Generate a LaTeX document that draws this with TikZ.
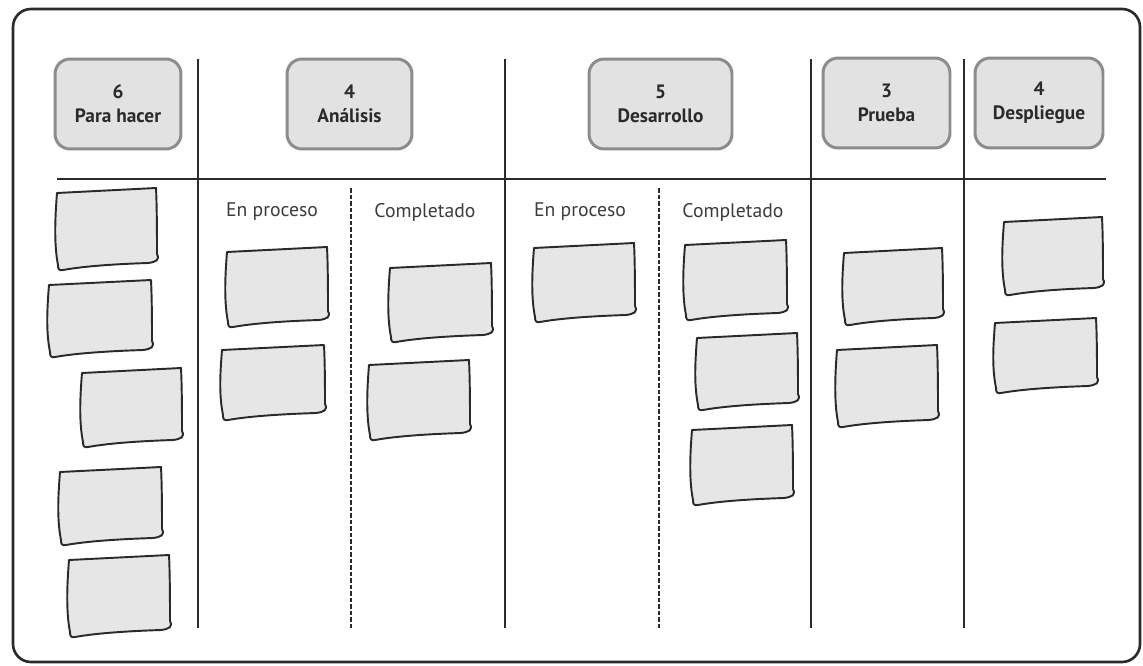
\documentclass[tikz,border=0pt]{standalone}
\usepackage{fontspec}
\setmainfont{PT Sans}
\definecolor{ink}{HTML}{2A2A2A}
\definecolor{notefill}{HTML}{E6E6E6}
\definecolor{hdrfill}{HTML}{E2E2E2}
\definecolor{hdrline}{HTML}{8C8C8C}
\definecolor{subtext}{HTML}{3C3C3C}
\tikzset{
  board/.style={draw=ink, line width=1.5pt, rounded corners=0.36cm},
  rule/.style={draw=ink, line width=1.1pt},
  splitline/.style={draw=ink, line width=1.3pt, dash pattern=on 2.6pt off 1.1pt},
  hdr/.style={draw=hdrline, fill=hdrfill, line width=1.7pt, rounded corners=0.3cm,
    minimum height=1.8cm, align=center, text=ink, inner sep=0pt,
    font=\bfseries\fontsize{11}{13.6}\selectfont},
  sub/.style={text=subtext, inner sep=0pt, font=\fontsize{11.2}{13}\selectfont},
  note/.style={draw=ink, fill=notefill, line width=1.1pt, line join=round}
}
% sticky note inside the box (#1,#2)-(#3,#4), y growing downwards
\newcommand\stickynote[4]{%
  \path[note] ({#1+2},{#2+5}) -- ({#3-1},{#2})
    .. controls ({#3},{#2+20}) and ({#3},{#4-30}) .. ({#3},{#4-16})
    .. controls ({#3+3},{#4-10}) and ({#3-1},{#4-8}) .. ({#3-9},{#4-7})
    .. controls ({#3-40},{#4-6}) and ({#1+30},{#4-4}) .. ({#1+8},{#4})
    .. controls ({#1+4},{#4+1}) and ({#1+3},{#4-1}) .. ({#1+3},{#4-5})
    .. controls ({#1-1},{#4-25}) and ({#1},{#2+30}) .. cycle;}
\begin{document}
\begin{tikzpicture}[x=0.02cm, y=-0.02cm]
  \fill[white] (0,0) rectangle (1143,666);
  \useasboundingbox (0,0) rectangle (1143,666);

  % board frame
  \draw[board] (13,9) rectangle (1140,662);

  % column separators and header rule
  \coordinate (h1) at (57,179);
  \coordinate (h2) at (1106,179);
  \draw[rule] (h1) -- (h2);
  \foreach \xx/\nm in {198/a, 505/b, 811/c, 964/d} {
    \coordinate (top\nm) at (\xx,59);
    \coordinate (bot\nm) at (\xx,628);
    \draw[rule] (top\nm) -- (bot\nm);
  }
  \foreach \xx/\nm in {351/e, 659/f} {
    \coordinate (top\nm) at (\xx,188);
    \coordinate (bot\nm) at (\xx,628);
    \draw[splitline] (top\nm) -- (bot\nm);
  }

  % column headers
  \node[hdr, minimum width=2.52cm] (todo)   at (118,104)   {6\\Para hacer};
  \node[hdr, minimum width=2.50cm] (anal)   at (349.5,104) {4\\Análisis};
  \node[hdr, minimum width=2.86cm] (dev)    at (660.5,104) {5\\Desarrollo};
  \node[hdr, minimum width=2.54cm] (test)   at (886.5,103) {3\\Prueba};
  \node[hdr, minimum width=2.56cm] (deploy) at (1039,103)  {4\\Despliegue};

  % sub-column labels
  \node[sub] (anaWip)  at (272,212) {En proceso};
  \node[sub] (anaDone) at (425,212) {Completado};
  \node[sub] (devWip)  at (580,212) {En proceso};
  \node[sub] (devDone) at (733,212) {Completado};

  % Para hacer
  \stickynote{55}{188}{157}{270}
  \stickynote{47}{280}{152}{357}
  \stickynote{80}{368}{182}{447}
  \stickynote{58}{467}{162}{545}
  \stickynote{67}{555}{170}{637}
  % Análisis
  \stickynote{225}{247}{328}{327}
  \stickynote{220}{345}{325}{420}
  \stickynote{388}{263}{492}{342}
  \stickynote{367}{360}{470}{440}
  % Desarrollo
  \stickynote{532}{243}{635}{322}
  \stickynote{683}{240}{787}{320}
  \stickynote{695}{333}{798}{410}
  \stickynote{690}{425}{793}{505}
  % Prueba
  \stickynote{842}{248}{943}{325}
  \stickynote{835}{345}{938}{427}
  % Despliegue
  \stickynote{1002}{217}{1103}{295}
  \stickynote{993}{318}{1097}{393}
\end{tikzpicture}
\end{document}
